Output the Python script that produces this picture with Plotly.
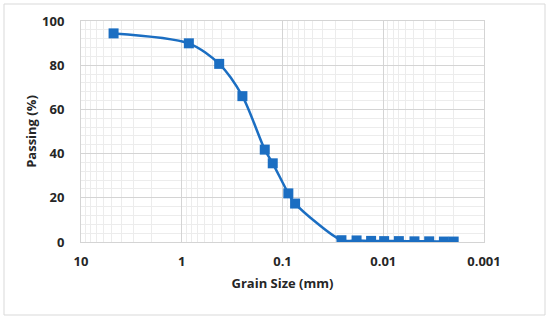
import plotly.graph_objects as go
import numpy as np

grain_size_mm = [4.75, 0.85, 0.425, 0.25, 0.15, 0.125, 0.0875, 0.075,
                 0.026, 0.0184, 0.0132, 0.0098, 0.0070, 0.0049, 0.0035, 0.0025, 0.0020]
passing_pct = [94.4, 89.9, 80.6, 66.0, 41.8, 35.6, 22.0, 17.4,
               0.8, 0.7, 0.5, 0.4, 0.4, 0.3, 0.3, 0.2, 0.2]
x_tick_vals = [10, 1, 0.1, 0.01, 0.001]
x_tick_text = ["10", "1", "0.1", "0.01", "0.001"]

blue = "#1b6ec2"
font_family = "Open Sans"
text_color = "#262626"

minor_x = [m * 10.0 ** e for e in range(-3, 1) for m in range(2, 10)]

fig = go.Figure()
fig.add_trace(go.Scatter(
    x=grain_size_mm, y=passing_pct, mode="lines+markers",
    line=dict(color=blue, width=2.5, shape="spline", smoothing=0.8),
    marker=dict(symbol="square", size=10, color=blue),
    showlegend=False,
))

tick_font = dict(size=13, family=font_family, weight="bold", color=text_color)
title_font = dict(size=13, family=font_family, weight="bold", color=text_color)

fig.update_layout(
    width=550, height=321,
    margin=dict(l=81, r=66, t=21, b=79),
    paper_bgcolor="white", plot_bgcolor="white",
    font=dict(family=font_family, color=text_color),
    xaxis=dict(
        type="log", range=[1, -3], automargin=False,
        tickvals=x_tick_vals, ticktext=x_tick_text,
        tickfont=tick_font,
        showgrid=True, gridcolor="#d4d4d4", gridwidth=1,
        minor=dict(tickvals=minor_x, showgrid=True, gridcolor="#ececec", gridwidth=1, ticks=""),
        showline=True, linecolor="#d4d4d4", mirror=True,
        ticks="", ticklabelstandoff=7,
        title=dict(text="Grain Size (mm)", font=title_font, standoff=10),
        zeroline=False,
    ),
    yaxis=dict(
        range=[0, 100], dtick=20, tick0=0, automargin=False,
        tickfont=tick_font,
        showgrid=True, gridcolor="#d4d4d4", gridwidth=1,
        minor=dict(dtick=4, showgrid=True, gridcolor="#ececec", gridwidth=1, ticks=""),
        showline=True, linecolor="#d4d4d4", mirror=True,
        ticks="", ticklabelstandoff=13,
        title=dict(text="Passing (%)", font=title_font, standoff=2),
        zeroline=False,
    ),
    shapes=[dict(type="rect", xref="paper", yref="paper",
                 x0=-77/403, x1=1 + 61/403, y0=-73/221, y1=1 + 17/221,
                 line=dict(color="#d9d9d9", width=1), fillcolor="rgba(0,0,0,0)", layer="below")],
)

fig.write_html("out.html", config={"displayModeBar": False},
               post_script="document.body.style.margin='0';document.body.style.padding='0';")
